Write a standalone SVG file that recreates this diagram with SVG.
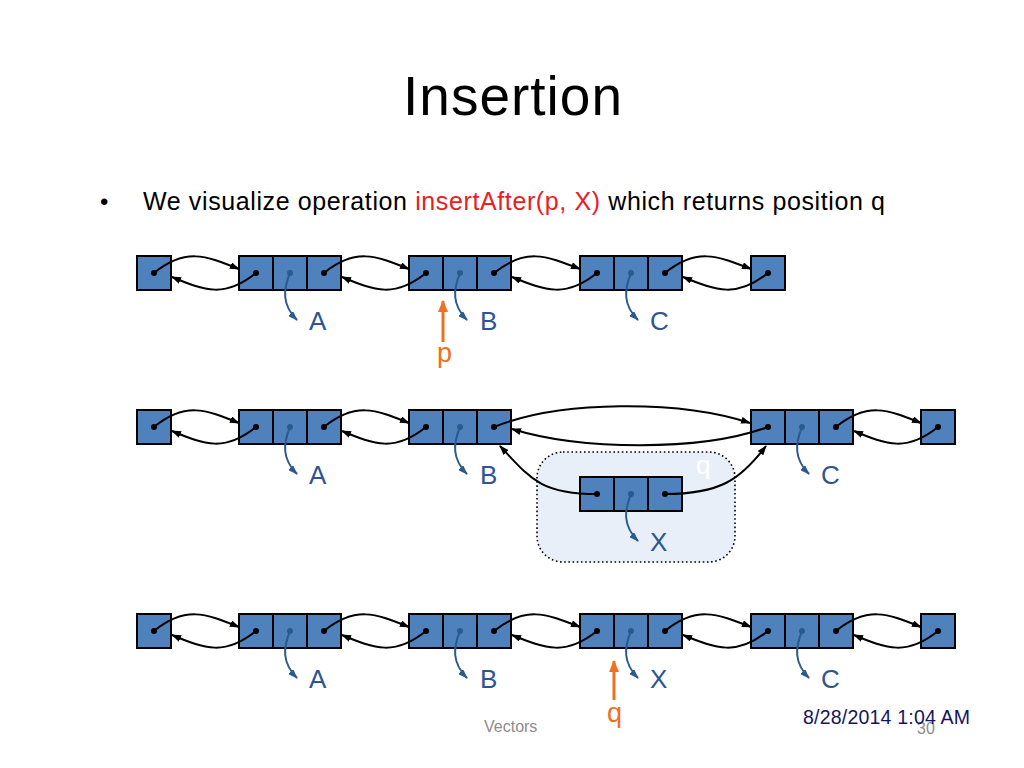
<svg xmlns="http://www.w3.org/2000/svg" width="1024" height="768" viewBox="0 0 1024 768">
<defs>
<style>
.cell{fill:#4f81bd;stroke:#000;stroke-width:2}
.dot{fill:#000}
.ddot{fill:#2a5b8f}
.lk{fill:none;stroke:#000;stroke-width:2;marker-end:url(#ah)}
.dp{fill:none;stroke:#2a5b8f;stroke-width:2;marker-end:url(#ahb)}
.or{fill:none;stroke:#f07020;stroke-width:3;marker-end:url(#aho)}
.lbl{font-family:"Liberation Sans",Arial,sans-serif;font-size:26px;fill:#2e5590}
.olbl{font-family:"Liberation Sans",Arial,sans-serif;font-size:27px;fill:#f07020}
</style>
<marker id="ah" viewBox="0 0 10 7" refX="9" refY="3.5" markerWidth="10" markerHeight="7" markerUnits="userSpaceOnUse" orient="auto"><path d="M0,0 L10,3.5 L0,7 z" fill="#000"/></marker>
<marker id="ahb" viewBox="0 0 10 7" refX="9" refY="3.5" markerWidth="10" markerHeight="7" markerUnits="userSpaceOnUse" orient="auto"><path d="M0,0 L10,3.5 L0,7 z" fill="#2a5b8f"/></marker>
<marker id="aho" viewBox="0 0 12 10" refX="11" refY="5" markerWidth="12" markerHeight="10" markerUnits="userSpaceOnUse" orient="auto"><path d="M0,0 L12,5 L0,10 z" fill="#f07020"/></marker>
</defs>
<rect width="1024" height="768" fill="#fff"/>

<text x="403" y="115" font-family="'Liberation Sans',Arial,sans-serif" font-size="55" fill="#000" textLength="219">Insertion</text>
<text x="100" y="210" font-family="'Liberation Sans',Arial,sans-serif" font-size="24" fill="#000">•</text>
<text x="143" y="210" font-family="'Liberation Sans',Arial,sans-serif" font-size="25" fill="#000" textLength="742">We visualize operation <tspan fill="#e8201f">insertAfter(p, X)</tspan> which returns position q</text>

<!-- Row 1 -->
<g id="r1-header"><rect class="cell" x="137" y="256" width="34" height="34"/><circle class="dot" cx="154" cy="273" r="3"/></g>
<g id="r1-A"><rect class="cell" x="239" y="256" width="34" height="34"/><rect class="cell" x="273" y="256" width="34" height="34"/><rect class="cell" x="307" y="256" width="34" height="34"/><circle class="dot" cx="256" cy="273" r="3"/><circle class="ddot" cx="290" cy="273" r="3"/><circle class="dot" cx="324" cy="273" r="3"/><text class="lbl" x="309" y="330">A</text></g>
<g id="r1-B"><rect class="cell" x="409" y="256" width="34" height="34"/><rect class="cell" x="443" y="256" width="34" height="34"/><rect class="cell" x="477" y="256" width="34" height="34"/><circle class="dot" cx="426" cy="273" r="3"/><circle class="ddot" cx="460" cy="273" r="3"/><circle class="dot" cx="494" cy="273" r="3"/><text class="lbl" x="480" y="330">B</text></g>
<g id="r1-C"><rect class="cell" x="580" y="256" width="34" height="34"/><rect class="cell" x="614" y="256" width="34" height="34"/><rect class="cell" x="648" y="256" width="34" height="34"/><circle class="dot" cx="597" cy="273" r="3"/><circle class="ddot" cx="631" cy="273" r="3"/><circle class="dot" cx="665" cy="273" r="3"/><text class="lbl" x="650" y="330">C</text></g>
<g id="r1-trailer"><rect class="cell" x="751" y="256" width="34" height="34"/><circle class="dot" cx="768" cy="273" r="3"/></g>
<g id="r1-p"><text class="olbl" x="437" y="362">p</text></g>

<!-- Row 2 -->
<g id="r2-newbox"><rect x="537" y="452" width="198" height="110" rx="26" ry="26" fill="#e9eff9" stroke="#000" stroke-width="1.6" stroke-dasharray="1.6 2.6"/><text x="696" y="474" font-family="'Liberation Sans',Arial,sans-serif" font-size="26" fill="#ffffff">q</text></g>
<g id="r2-header"><rect class="cell" x="137" y="410" width="34" height="34"/><circle class="dot" cx="154" cy="427" r="3"/></g>
<g id="r2-A"><rect class="cell" x="239" y="410" width="34" height="34"/><rect class="cell" x="273" y="410" width="34" height="34"/><rect class="cell" x="307" y="410" width="34" height="34"/><circle class="dot" cx="256" cy="427" r="3"/><circle class="ddot" cx="290" cy="427" r="3"/><circle class="dot" cx="324" cy="427" r="3"/><text class="lbl" x="309" y="484">A</text></g>
<g id="r2-B"><rect class="cell" x="409" y="410" width="34" height="34"/><rect class="cell" x="443" y="410" width="34" height="34"/><rect class="cell" x="477" y="410" width="34" height="34"/><circle class="dot" cx="426" cy="427" r="3"/><circle class="ddot" cx="460" cy="427" r="3"/><circle class="dot" cx="494" cy="427" r="3"/><text class="lbl" x="480" y="484">B</text></g>
<g id="r2-C"><rect class="cell" x="751" y="410" width="34" height="34"/><rect class="cell" x="785" y="410" width="34" height="34"/><rect class="cell" x="819" y="410" width="34" height="34"/><circle class="dot" cx="768" cy="427" r="3"/><circle class="ddot" cx="802" cy="427" r="3"/><circle class="dot" cx="836" cy="427" r="3"/><text class="lbl" x="821" y="484">C</text></g>
<g id="r2-trailer"><rect class="cell" x="921" y="410" width="34" height="34"/><circle class="dot" cx="938" cy="427" r="3"/></g>
<g id="r2-X"><rect class="cell" x="580" y="477" width="34" height="34"/><rect class="cell" x="614" y="477" width="34" height="34"/><rect class="cell" x="648" y="477" width="34" height="34"/><circle class="dot" cx="597" cy="494" r="3"/><circle class="ddot" cx="631" cy="494" r="3"/><circle class="dot" cx="665" cy="494" r="3"/><text class="lbl" x="650" y="551">X</text></g>

<!-- Row 3 -->
<g id="r3-header"><rect class="cell" x="137" y="614" width="34" height="34"/><circle class="dot" cx="154" cy="631" r="3"/></g>
<g id="r3-A"><rect class="cell" x="239" y="614" width="34" height="34"/><rect class="cell" x="273" y="614" width="34" height="34"/><rect class="cell" x="307" y="614" width="34" height="34"/><circle class="dot" cx="256" cy="631" r="3"/><circle class="ddot" cx="290" cy="631" r="3"/><circle class="dot" cx="324" cy="631" r="3"/><text class="lbl" x="309" y="688">A</text></g>
<g id="r3-B"><rect class="cell" x="409" y="614" width="34" height="34"/><rect class="cell" x="443" y="614" width="34" height="34"/><rect class="cell" x="477" y="614" width="34" height="34"/><circle class="dot" cx="426" cy="631" r="3"/><circle class="ddot" cx="460" cy="631" r="3"/><circle class="dot" cx="494" cy="631" r="3"/><text class="lbl" x="480" y="688">B</text></g>
<g id="r3-X"><rect class="cell" x="580" y="614" width="34" height="34"/><rect class="cell" x="614" y="614" width="34" height="34"/><rect class="cell" x="648" y="614" width="34" height="34"/><circle class="dot" cx="597" cy="631" r="3"/><circle class="ddot" cx="631" cy="631" r="3"/><circle class="dot" cx="665" cy="631" r="3"/><text class="lbl" x="650" y="688">X</text></g>
<g id="r3-C"><rect class="cell" x="751" y="614" width="34" height="34"/><rect class="cell" x="785" y="614" width="34" height="34"/><rect class="cell" x="819" y="614" width="34" height="34"/><circle class="dot" cx="768" cy="631" r="3"/><circle class="ddot" cx="802" cy="631" r="3"/><circle class="dot" cx="836" cy="631" r="3"/><text class="lbl" x="821" y="688">C</text></g>
<g id="r3-trailer"><rect class="cell" x="921" y="614" width="34" height="34"/><circle class="dot" cx="938" cy="631" r="3"/></g>
<g id="r3-q"><text class="olbl" x="607" y="722">q</text></g>

<g id="connectors">
<!-- row 1 -->
<path class="lk" d="M154,273 C185,248 205,255 239,269"/>
<path class="lk" d="M256,273 C225,298 205,291 172,277"/>
<path class="lk" d="M324,273 C355,248 375,255 409,269"/>
<path class="lk" d="M426,273 C395,298 375,291 342,277"/>
<path class="lk" d="M494,273 C525,248 545,255 580,269"/>
<path class="lk" d="M597,273 C566,298 546,291 512,277"/>
<path class="lk" d="M665,273 C696,248 716,255 751,269"/>
<path class="lk" d="M768,273 C737,298 717,291 683,277"/>
<path class="dp" d="M290,273 C283,290 282,305 297,320"/>
<path class="dp" d="M460,273 C453,290 452,305 467,320"/>
<path class="dp" d="M631,273 C624,290 623,305 638,320"/>
<path class="or" d="M443,342 L443,301"/>
<!-- row 2 -->
<path class="lk" d="M154,427 C185,402 205,409 239,423"/>
<path class="lk" d="M256,427 C225,452 205,445 172,431"/>
<path class="lk" d="M324,427 C355,402 375,409 409,423"/>
<path class="lk" d="M426,427 C395,452 375,445 342,431"/>
<path class="lk" d="M494,427 C560,400 680,400 750,423"/>
<path class="lk" d="M768,427 C700,452 580,450 512,429"/>
<path class="lk" d="M836,427 C867,402 887,409 921,423"/>
<path class="lk" d="M938,427 C907,452 887,445 854,431"/>
<path class="lk" d="M597,494 C540,494 530,478 500,446"/>
<path class="lk" d="M665,494 C720,494 740,480 766,446"/>
<path class="dp" d="M290,427 C283,444 282,459 297,474"/>
<path class="dp" d="M460,427 C453,444 452,459 467,474"/>
<path class="dp" d="M802,427 C795,444 794,459 809,474"/>
<path class="dp" d="M631,494 C624,511 623,526 638,541"/>
<!-- row 3 -->
<path class="lk" d="M154,631 C185,606 205,613 239,627"/>
<path class="lk" d="M256,631 C225,656 205,649 172,635"/>
<path class="lk" d="M324,631 C355,606 375,613 409,627"/>
<path class="lk" d="M426,631 C395,656 375,649 342,635"/>
<path class="lk" d="M494,631 C525,606 545,613 580,627"/>
<path class="lk" d="M597,631 C566,656 546,649 512,635"/>
<path class="lk" d="M665,631 C696,606 716,613 751,627"/>
<path class="lk" d="M768,631 C737,656 717,649 683,635"/>
<path class="lk" d="M836,631 C867,606 887,613 921,627"/>
<path class="lk" d="M938,631 C907,656 887,649 854,635"/>
<path class="dp" d="M290,631 C283,648 282,663 297,678"/>
<path class="dp" d="M460,631 C453,648 452,663 467,678"/>
<path class="dp" d="M631,631 C624,648 623,663 638,678"/>
<path class="dp" d="M802,631 C795,648 794,663 809,678"/>
<path class="or" d="M614,700 L614,661"/>
</g>

<text x="484" y="732" font-family="'Liberation Sans',Arial,sans-serif" font-size="16" fill="#8c8c8c">Vectors</text>
<text x="917" y="734" font-family="'Liberation Sans',Arial,sans-serif" font-size="16" fill="#8c8c8c">30</text>
<text x="803" y="724" font-family="'Liberation Sans',Arial,sans-serif" font-size="19.5" fill="#15155e" textLength="167">8/28/2014 1:04 AM</text>
</svg>
